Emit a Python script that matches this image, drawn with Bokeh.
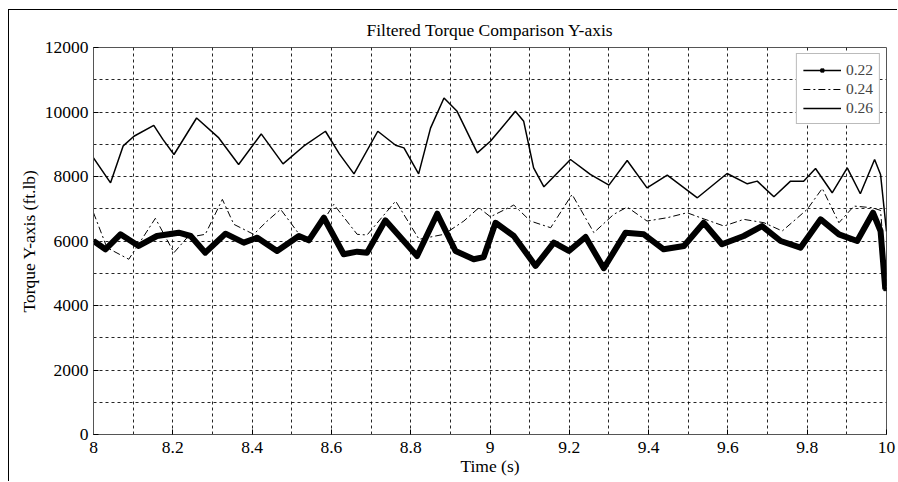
from bokeh.plotting import figure
from bokeh.models import FixedTicker, Legend, LegendItem
from bokeh.embed import file_html
from bokeh.resources import INLINE

# ---- data ----
t26 = [8.000, 8.043, 8.075, 8.102, 8.152, 8.175, 8.203, 8.260, 8.316, 8.366,
       8.423, 8.478, 8.530, 8.585, 8.620, 8.657, 8.717, 8.762, 8.783, 8.820,
       8.850, 8.884, 8.917, 8.968, 9.001, 9.026, 9.064, 9.085, 9.110, 9.136,
       9.203, 9.253, 9.300, 9.346, 9.396, 9.447, 9.523, 9.598, 9.649, 9.674,
       9.716, 9.758, 9.791, 9.821, 9.863, 9.901, 9.934, 9.970, 9.985, 10.0]
y26 = [8577, 7804, 8950, 9248, 9588, 9150, 8682, 9814, 9196, 8373,
       9320, 8392, 8939, 9403, 8700, 8083, 9403, 8970, 8887, 8083,
       9500, 10433, 10021, 8732, 9094, 9455, 10021, 9712, 8268, 7680,
       8527, 8063, 7732, 8496, 7649, 8042, 7340, 8094, 7773, 7856,
       7371, 7856, 7856, 8249, 7495, 8268, 7464, 8527, 8063, 6300]

t24 = [8.000, 8.034, 8.089, 8.119, 8.156, 8.203, 8.236, 8.282, 8.325, 8.354,
       8.404, 8.438, 8.472, 8.522, 8.547, 8.606, 8.665, 8.690, 8.762, 8.821,
       8.884, 8.934, 8.972, 9.001, 9.060, 9.102, 9.153, 9.207, 9.262, 9.312,
       9.346, 9.396, 9.447, 9.497, 9.531, 9.590, 9.640, 9.691, 9.737, 9.800,
       9.838, 9.880, 9.918, 9.964, 9.985, 10.0]
y24 = [6876, 5793, 5434, 6000, 6703, 5639, 6103, 6207, 7290, 6517,
       6207, 6619, 6981, 6155, 6000, 7135, 6207, 6186, 7238, 6053,
       6207, 6619, 7031, 6750, 7114, 6619, 6412, 7444, 6258, 6826,
       7052, 6619, 6722, 6876, 6722, 6464, 6671, 6567, 6310, 6981,
       7630, 6567, 7083, 7031, 6950, 4600]

t22 = [8.000, 8.030, 8.068, 8.114, 8.160, 8.215, 8.245, 8.282, 8.333, 8.379,
       8.413, 8.463, 8.518, 8.543, 8.581, 8.631, 8.665, 8.690, 8.736, 8.816,
       8.867, 8.913, 8.959, 8.984, 9.014, 9.060, 9.115, 9.161, 9.199, 9.241,
       9.287, 9.342, 9.388, 9.438, 9.489, 9.539, 9.585, 9.640, 9.686, 9.733,
       9.783, 9.834, 9.880, 9.926, 9.966, 9.985, 9.997]
y22 = [6000, 5742, 6207, 5846, 6155, 6258, 6155, 5639, 6227, 5948,
       6103, 5691, 6155, 6021, 6722, 5588, 5670, 5639, 6640, 5536,
       6845, 5691, 5434, 5500, 6567, 6155, 5228, 5948, 5691, 6124,
       5156, 6258, 6207, 5742, 5846, 6567, 5898, 6155, 6464, 6000,
       5793, 6671, 6207, 6000, 6876, 6310, 4506]

series_labels = ["0.22", "0.24", "0.26"]

x_ticks = [8.0, 8.2, 8.4, 8.6, 8.8, 9.0, 9.2, 9.4, 9.6, 9.8, 10.0]
x_tick_labels = ["8", "8.2", "8.4", "8.6", "8.8", "9", "9.2", "9.4", "9.6", "9.8", "10"]
x_grid = [8.1, 8.2, 8.3, 8.4, 8.5, 8.6, 8.7, 8.8, 8.9, 9.0,
          9.1, 9.2, 9.3, 9.4, 9.5, 9.6, 9.7, 9.8, 9.9]
y_ticks = [0, 2000, 4000, 6000, 8000, 10000, 12000]
y_grid = [1000, 2000, 3000, 4000, 5000, 6000, 7000, 8000, 9000, 10000, 11000]

FONT = "Liberation Serif"

p = figure(width=889, height=472, x_range=(8, 10), y_range=(0, 12000),
           output_backend="svg", toolbar_location=None,
           title="Filtered Torque Comparison Y-axis",
           min_border_left=84, min_border_right=12,
           min_border_top=36, min_border_bottom=48)
p.margin = (9, 0, 0, 8)
p.styles = {"border-left": "1px solid black", "border-top": "1px solid black"}

p.title.align = "center"
p.title.text_font = FONT
p.title.text_font_size = "17.5px"
p.title.text_font_style = "normal"
p.title.text_color = "black"
p.title.standoff = 15

p.outline_line_color = "#555555"
p.outline_line_width = 1

for ax in (p.xaxis[0], p.yaxis[0]):
    ax.axis_line_color = "#555555"
    ax.major_tick_in = 5
    ax.major_tick_out = 0
    ax.major_tick_line_color = "black"
    ax.minor_tick_line_color = None
    ax.major_label_text_font = FONT
    ax.major_label_text_font_size = "17.5px"
    ax.major_label_text_color = "black"
    ax.axis_label_text_font = FONT
    ax.axis_label_text_font_size = "17.5px"
    ax.axis_label_text_font_style = "normal"
    ax.axis_label_text_color = "black"

p.xaxis.ticker = FixedTicker(ticks=x_ticks)
p.xaxis.major_label_overrides = {v: s for v, s in zip(x_ticks, x_tick_labels)}
p.yaxis.ticker = FixedTicker(ticks=y_ticks)
p.xaxis.axis_label = "Time (s)"
p.yaxis.axis_label = "Torque Y-axis (ft.lb)"
p.xaxis.major_label_standoff = 7
p.yaxis.major_label_standoff = 5
p.xaxis.axis_label_standoff = 0
p.yaxis.axis_label_standoff = 3

p.xgrid.ticker = FixedTicker(ticks=x_grid)
p.ygrid.ticker = FixedTicker(ticks=y_grid)
for g in (p.xgrid, p.ygrid):
    g.grid_line_color = "black"
    g.grid_line_alpha = 0.85
    g.grid_line_dash = "3 3"
    g.grid_line_width = 1

r26 = p.line(t26, y26, line_color="black", line_width=1.5)
r24 = p.line(t24, y24, line_color="black", line_width=1, line_dash="7 3 2 3")
r22thin = p.line(t22, y22, line_color="black", line_width=1.5)
r22sq = p.scatter(t22, y22, marker="square", size=3, color="black")
r22 = p.line(t22, y22, line_color="black", line_width=6, line_join="round")

legend = Legend(items=[
    LegendItem(label=series_labels[0], renderers=[r22thin, r22sq]),
    LegendItem(label=series_labels[1], renderers=[r24]),
    LegendItem(label=series_labels[2], renderers=[r26]),
], location="top_right")
legend.label_text_font = FONT
legend.label_text_font_size = "15.5px"
legend.glyph_width = 38
legend.glyph_height = 8
legend.label_height = 19
legend.spacing = 0
legend.padding = 6
legend.margin = 6
legend.label_standoff = 5
legend.border_line_color = "#777777"
legend.border_line_width = 1
legend.background_fill_alpha = 1
p.add_layout(legend)

open("out.html", "w").write(file_html(p, INLINE))
